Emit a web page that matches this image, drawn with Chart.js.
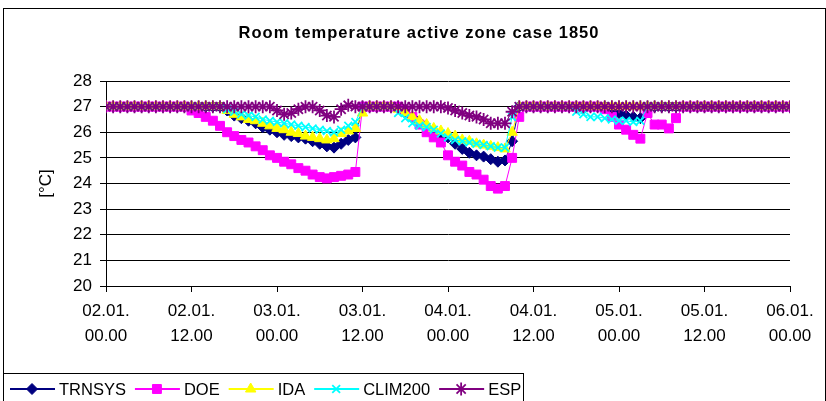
<!DOCTYPE html>
<html lang="en">
<head>
    <meta charset="UTF-8">
    <title>Room temperature active zone case 1850</title>
    <script src="https://cdn.jsdelivr.net/npm/chart.js"></script>
    <style>
        html, body { margin: 0; padding: 0; background: #fff; }
        #wrap { width: 826px; height: 401px; }
    </style>
</head>
<body>
<div id="wrap"><canvas id="roomTemp" width="826" height="401"></canvas></div>
<script>
    const chartTitle = "Room temperature active zone case 1850";
    const yTitle = "[°C]";

    // hourly steps, 02.01. 00.00 -> 06.01. 00.00
    const hours = Array.from({ length: 97 }, (_, i) => i);
    const dayLabels = ["02.01.", "02.01.", "03.01.", "03.01.", "04.01.", "04.01.", "05.01.", "05.01.", "06.01."];
    const timeLabels = ["00.00", "12.00", "00.00", "12.00", "00.00", "12.00", "00.00", "12.00", "00.00"];

    const trnsys = [
        27, 27, 27, 27, 27, 27, 27, 27, 27, 27, 27, 27,
        27, 27, 27, 27, 27, 26.85, 26.65, 26.55, 26.45, 26.35, 26.2, 26.1,
        26.0, 25.9, 25.85, 25.8, 25.75, 25.65, 25.55, 25.45, 25.4, 25.55, 25.7, 25.8,
        27, 27, 27, 27, 27, 27, 26.75, 26.6, 26.4, 26.2, 26.05, 25.9,
        25.8, 25.55, 25.35, 25.2, 25.1, 25.05, 24.95, 24.85, 24.9, 25.65, 27, 27,
        27, 27, 27, 27, 27, 27, 27, 27, 27, 27, 27, 26.85,
        26.75, 26.65, 26.6, 26.55, 27, 27, 27, 27, 27, 27, 27, 27,
        27, 27, 27, 27, 27, 27, 27, 27, 27, 27, 27, 27,
        27
    ];
    const doe = [
        27, 27, 27, 27, 27, 27, 27, 27, 27, 27, 27, 27,
        26.85, 26.75, 26.6, 26.45, 26.25, 26.0, 25.85, 25.7, 25.6, 25.45, 25.3, 25.1,
        25.0, 24.85, 24.75, 24.6, 24.5, 24.35, 24.25, 24.2, 24.25, 24.3, 24.35, 24.45,
        27, 27, 27, 27, 27, 27, 26.85, 26.6, 26.3, 26.0, 25.8, 25.6,
        25.1, 24.85, 24.7, 24.45, 24.35, 24.15, 23.9, 23.8, 23.9, 25.0, 26.6, 27,
        27, 27, 27, 27, 27, 27, 27, 27, 27, 27, 26.9, 26.6,
        26.3, 26.1, 25.9, 25.75, 26.75, 26.3, 26.3, 26.15, 26.55, 27, 27, 27,
        27, 27, 27, 27, 27, 27, 27, 27, 27, 27, 27, 27,
        27
    ];
    const ida = [
        27, 27, 27, 27, 27, 27, 27, 27, 27, 27, 27, 27,
        27, 27, 27, 27, 27, 26.85, 26.7, 26.6, 26.5, 26.45, 26.35, 26.25,
        26.15, 26.1, 26.0, 25.95, 25.85, 25.8, 25.75, 25.7, 25.75, 25.95, 26.05, 26.15,
        26.75, 27, 27, 27, 27, 26.9, 26.75, 26.6, 26.45, 26.3, 26.15, 26.05,
        25.95, 25.85, 25.7, 25.65, 25.55, 25.5, 25.45, 25.4, 25.35, 26.0, 27, 27,
        27, 27, 27, 27, 27, 27, 27, 27, 27, 27, 27, 27,
        27, 27, 27, 27, 27, 27, 27, 27, 27, 27, 27, 27,
        27, 27, 27, 27, 27, 27, 27, 27, 27, 27, 27, 27,
        27
    ];
    const clim200 = [
        27, 27, 27, 27, 27, 27, 27, 27, 27, 27, 27, 27,
        27, 27, 27, 27, 27, 26.9, 26.8, 26.7, 26.65, 26.6, 26.5, 26.45,
        26.4, 26.35, 26.3, 26.25, 26.2, 26.15, 26.1, 26.05, 26.0, 26.1, 26.25, 26.4,
        27, 27, 27, 27, 27, 26.75, 26.55, 26.35, 26.25, 26.2, 26.1, 25.95,
        25.8, 25.7, 25.65, 25.6, 25.55, 25.5, 25.45, 25.4, 25.4, 26.6, 27, 27,
        27, 27, 27, 27, 27, 27, 26.8, 26.7, 26.6, 26.6, 26.55, 26.5,
        26.45, 26.45, 26.4, 26.45, 27, 27, 27, 27, 27, 27, 27, 27,
        27, 27, 27, 27, 27, 27, 27, 27, 27, 27, 27, 27,
        27
    ];
    const esp = [
        27, 27, 27, 27, 27, 27, 27, 27, 27, 27, 27, 27,
        27, 27, 27, 27, 27, 27, 27, 27, 27, 27, 27, 27,
        26.85, 26.7, 26.75, 26.9, 27, 27, 26.85, 26.65, 26.6, 26.9, 27.05, 27,
        27, 27, 27, 27, 27, 27, 27, 27, 27, 27, 27, 27,
        26.95, 26.85, 26.75, 26.65, 26.6, 26.5, 26.35, 26.35, 26.35, 26.8, 27, 27,
        27, 27, 27, 27, 27, 27, 27, 27, 27, 27, 27, 27,
        27, 27, 27, 27, 27, 27, 27, 27, 27, 27, 27, 27,
        27, 27, 27, 27, 27, 27, 27, 27, 27, 27, 27, 27,
        27
    ];

    const fontFamily = "'Liberation Sans', Arial, sans-serif";

    function series(label, data, color, style, radius, pointWidth, order) {
        return {
            label: label,
            data: data,
            borderColor: color,
            backgroundColor: color,
            pointBackgroundColor: color,
            pointBorderColor: color,
            pointStyle: style,
            pointRadius: radius,
            pointBorderWidth: pointWidth,
            borderWidth: 1,
            tension: 0,
            fill: false,
            order: order
        };
    }

    // frame, title and the boxed legend at the bottom
    const framePlugin = {
        id: "frame",
        beforeDraw(chart) {
            const ctx = chart.ctx;
            ctx.save();
            ctx.fillStyle = "#fff";
            ctx.fillRect(0, 0, chart.width, chart.height);
            ctx.restore();
        },
        afterDraw(chart) {
            const ctx = chart.ctx;
            ctx.save();
            ctx.strokeStyle = "#000";
            ctx.lineWidth = 1;
            ctx.strokeRect(3.5, 8.5, 822, 400);

            ctx.fillStyle = "#000";
            ctx.font = "bold 16.5px " + fontFamily;
            ctx.textAlign = "center";
            ctx.textBaseline = "alphabetic";
            if ("letterSpacing" in ctx) ctx.letterSpacing = "1px";
            ctx.fillText(chartTitle, 419, 38);
            if ("letterSpacing" in ctx) ctx.letterSpacing = "0px";

            ctx.fillStyle = "#fff";
            ctx.fillRect(3.5, 373.5, 520, 30);
            ctx.strokeRect(3.5, 373.5, 520, 40);

            let x = 10;
            const y = 389;
            ctx.font = "16.5px " + fontFamily;
            chart.data.datasets.forEach(ds => {
                ctx.strokeStyle = ds.borderColor;
                ctx.lineWidth = 2;
                ctx.beginPath();
                ctx.moveTo(x, y);
                ctx.lineTo(x + 45, y);
                ctx.stroke();
                if (Chart.helpers && Chart.helpers.drawPoint) {
                    ctx.fillStyle = ds.pointBackgroundColor;
                    ctx.strokeStyle = ds.pointBorderColor;
                    ctx.lineWidth = ds.pointBorderWidth;
                    Chart.helpers.drawPoint(ctx, {
                        pointStyle: ds.pointStyle,
                        radius: ds.pointRadius,
                        rotation: 0,
                        borderWidth: ds.pointBorderWidth
                    }, x + 22, y);
                }
                ctx.fillStyle = "#000";
                ctx.textAlign = "left";
                ctx.textBaseline = "middle";
                ctx.fillText(ds.label, x + 49, y + 1);
                x += 49 + ctx.measureText(ds.label).width + 9;
            });
            ctx.restore();
        }
    };

    new Chart(document.getElementById("roomTemp"), {
        type: "line",
        data: {
            labels: hours,
            datasets: [
                series("TRNSYS", trnsys, "#000080", "rectRot", 5.5, 1, 5),
                series("DOE", doe, "#FF00FF", "rect", 6.3, 1, 4),
                series("IDA", ida, "#FFFF00", "triangle", 6, 1, 3),
                series("CLIM200", clim200, "#00FFFF", "crossRot", 5.5, 1.8, 2),
                series("ESP", esp, "#800080", "star", 6.5, 1.8, 1)
            ]
        },
        options: {
            responsive: false,
            animation: false,
            layout: { padding: { left: 32, right: 36, top: 81, bottom: 0 } },
            plugins: {
                legend: { display: false },
                title: { display: false },
                tooltip: { enabled: false }
            },
            scales: {
                x: {
                    type: "linear",
                    min: 0,
                    max: 96,
                    grid: { drawOnChartArea: false, drawTicks: true, tickLength: 6, color: "#000" },
                    border: { color: "#000", width: 1 },
                    ticks: {
                        stepSize: 12,
                        autoSkip: false,
                        maxRotation: 0,
                        padding: 7,
                        color: "#000",
                        font: { size: 17, family: fontFamily, lineHeight: 1.45 },
                        callback: v => v % 12 === 0 ? [dayLabels[v / 12], timeLabels[v / 12]] : null
                    },
                    afterFit: s => { s.height = 115; }
                },
                y: {
                    min: 20,
                    max: 28,
                    grid: { color: "#000", tickLength: 6 },
                    border: { color: "#000", width: 1 },
                    ticks: {
                        stepSize: 1,
                        padding: 8,
                        color: "#000",
                        font: { size: 17, family: fontFamily }
                    },
                    title: {
                        display: true,
                        text: yTitle,
                        color: "#000",
                        font: { size: 17, family: fontFamily }
                    },
                    afterFit: s => { s.width = 74; }
                }
            }
        },
        plugins: [framePlugin]
    });
</script>
</body>
</html>
